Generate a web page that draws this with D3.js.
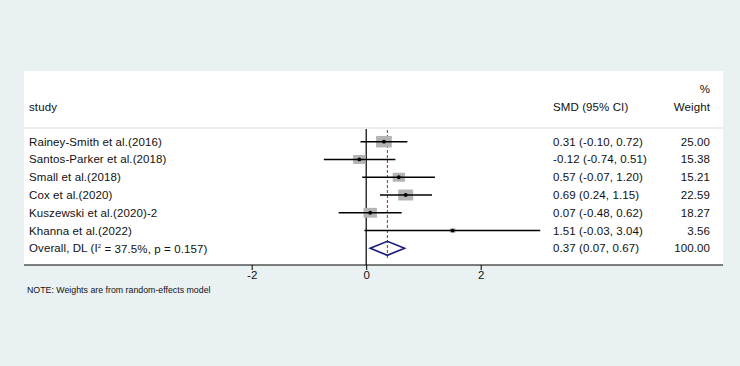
<!DOCTYPE html>
<meta charset="utf-8">
<title>Forest plot</title>
<script src="https://d3js.org/d3.v7.min.js"></script>
<style>
  body { margin: 0; background: #eaf1f3; }
  svg { display: block; }
  text { font-family: "Liberation Sans", Arial, sans-serif; fill: #111; }
  .lbl { font-size: 11.5px; letter-spacing: 0.1px; }
  .note { font-size: 8.8px; }
</style>
<body>
<div id="chart"></div>
<script>
// data
var studies = ["Rainey-Smith et al.(2016)", "Santos-Parker et al.(2018)", "Small et al.(2018)",
               "Cox et al.(2020)", "Kuszewski et al.(2020)-2", "Khanna et al.(2022)"];
var smd    = [0.31, -0.12, 0.57, 0.69, 0.07, 1.51];
var lower  = [-0.10, -0.74, -0.07, 0.24, -0.48, -0.03];
var upper  = [0.72, 0.51, 1.20, 1.15, 0.62, 3.04];
var weight = [25.00, 15.38, 15.21, 22.59, 18.27, 3.56];
var overall = [0.37, 0.07, 0.67];   // estimate, lower, upper
var overallWeight = 100.00;
var tickVals = [-2, 0, 2];

var W = 740, H = 366;
var svg = d3.select("#chart").append("svg").attr("width", W).attr("height", H);

// plain hyphen for negatives, like the original
var loc = d3.formatLocale({decimal: ".", thousands: ",", grouping: [3], currency: ["", ""], minus: "-"});
var f2 = loc.format(".2f");

// plot area box
var box = {x0: 24, x1: 723, y0: 71, y1: 265};
svg.append("rect")
  .attr("x", box.x0).attr("y", box.y0)
  .attr("width", box.x1 - box.x0).attr("height", box.y1 - box.y0)
  .attr("fill", "#fff");

var x = d3.scaleLinear().domain([-2, 2]).range([251.7, 480.7]);
var rows = studies.concat(["Overall"]);
var y = d3.scalePoint().domain(rows).range([141.7, 248.3]);

// header
svg.append("text").attr("class", "lbl").attr("x", 29).attr("y", 106.7).attr("dy", "0.35em").text("study");
svg.append("text").attr("class", "lbl").attr("x", 553).attr("y", 106.7).attr("dy", "0.35em").text("SMD (95% CI)");
svg.append("text").attr("class", "lbl").attr("x", 710).attr("y", 89.3).attr("dy", "0.35em")
  .attr("text-anchor", "end").text("%");
svg.append("text").attr("class", "lbl").attr("x", 710).attr("y", 106.7).attr("dy", "0.35em")
  .attr("text-anchor", "end").text("Weight");
svg.append("line").attr("x1", box.x0).attr("x2", box.x1).attr("y1", 128).attr("y2", 128)
  .attr("stroke", "#d9d9d9").attr("stroke-width", 1);

// null line and overall line
svg.append("line").attr("x1", x(0)).attr("x2", x(0)).attr("y1", 129).attr("y2", box.y1)
  .attr("stroke", "#000").attr("stroke-width", 1.2);
svg.append("line").attr("x1", x(overall[0])).attr("x2", x(overall[0])).attr("y1", 130).attr("y2", 258)
  .attr("stroke", "#a3292c").attr("stroke-width", 1).attr("stroke-dasharray", "3,2");

var idx = d3.range(studies.length);

// boxes (area ~ weight)
svg.append("g").selectAll("rect").data(idx).enter().append("rect")
  .attr("x", function(i) { return x(smd[i]) - 3.15 * Math.sqrt(weight[i]) / 2; })
  .attr("y", function(i) { return y(studies[i]) - 2.3 * Math.sqrt(weight[i]) / 2; })
  .attr("width", function(i) { return 3.15 * Math.sqrt(weight[i]); })
  .attr("height", function(i) { return 2.3 * Math.sqrt(weight[i]); })
  .attr("fill", "#b4b4b4");

// CIs
svg.append("g").selectAll("line").data(idx).enter().append("line")
  .attr("x1", function(i) { return x(lower[i]); })
  .attr("x2", function(i) { return x(upper[i]); })
  .attr("y1", function(i) { return y(studies[i]); })
  .attr("y2", function(i) { return y(studies[i]); })
  .attr("stroke", "#000").attr("stroke-width", 1.4);

// points
svg.append("g").selectAll("circle").data(idx).enter().append("circle")
  .attr("cx", function(i) { return x(smd[i]); })
  .attr("cy", function(i) { return y(studies[i]); })
  .attr("r", 1.9).attr("fill", "#000");

// overall diamond
var yo = y("Overall");
svg.append("path")
  .attr("d", "M" + x(overall[1]) + "," + yo + "L" + x(overall[0]) + "," + (yo - 7) +
             "L" + x(overall[2]) + "," + yo + "L" + x(overall[0]) + "," + (yo + 7) + "Z")
  .attr("fill", "none").attr("stroke", "#1a1a7a").attr("stroke-width", 1.6);

// left labels
svg.append("g").selectAll("text").data(idx).enter().append("text")
  .attr("class", "lbl").attr("x", 29).attr("y", function(i) { return y(studies[i]); })
  .attr("dy", "0.35em").text(function(i) { return studies[i]; });
var ov = svg.append("text").attr("class", "lbl").attr("x", 29).attr("y", yo).attr("dy", "0.35em");
ov.append("tspan").text("Overall, DL (I");
ov.append("tspan").attr("font-size", "6px").attr("dy", "-0.75em").text("2");
ov.append("tspan").attr("dy", "0.45em").text(" = 37.5%, p = 0.157)");

// right columns
svg.append("g").selectAll("text").data(idx).enter().append("text")
  .attr("class", "lbl").attr("x", 553).attr("y", function(i) { return y(studies[i]); })
  .attr("dy", "0.35em")
  .text(function(i) { return f2(smd[i]) + " (" + f2(lower[i]) + ", " + f2(upper[i]) + ")"; });
svg.append("text").attr("class", "lbl").attr("x", 553).attr("y", yo).attr("dy", "0.35em")
  .text(f2(overall[0]) + " (" + f2(overall[1]) + ", " + f2(overall[2]) + ")");
svg.append("g").selectAll("text").data(idx).enter().append("text")
  .attr("class", "lbl").attr("x", 710).attr("y", function(i) { return y(studies[i]); })
  .attr("dy", "0.35em").attr("text-anchor", "end").text(function(i) { return f2(weight[i]); });
svg.append("text").attr("class", "lbl").attr("x", 710).attr("y", yo).attr("dy", "0.35em")
  .attr("text-anchor", "end").text(f2(overallWeight));

// x axis
var axis = svg.append("g").attr("transform", "translate(0," + box.y1 + ")")
  .call(d3.axisBottom(x).tickValues(tickVals).tickSize(5).tickSizeOuter(0).tickFormat(loc.format("d")));
axis.select(".domain").remove();
axis.selectAll("text").attr("class", "lbl").attr("font-size", null).attr("font-family", null)
  .attr("fill", null).attr("dy", "0.5em");
axis.selectAll("line").attr("stroke", "#000");
svg.append("line").attr("x1", box.x0).attr("x2", box.x1).attr("y1", box.y1).attr("y2", box.y1)
  .attr("stroke", "#000").attr("stroke-width", 1.2);

svg.append("text").attr("class", "note").attr("x", 27).attr("y", 289.7).attr("dy", "0.35em")
  .text("NOTE: Weights are from random-effects model");
</script>
</body>
